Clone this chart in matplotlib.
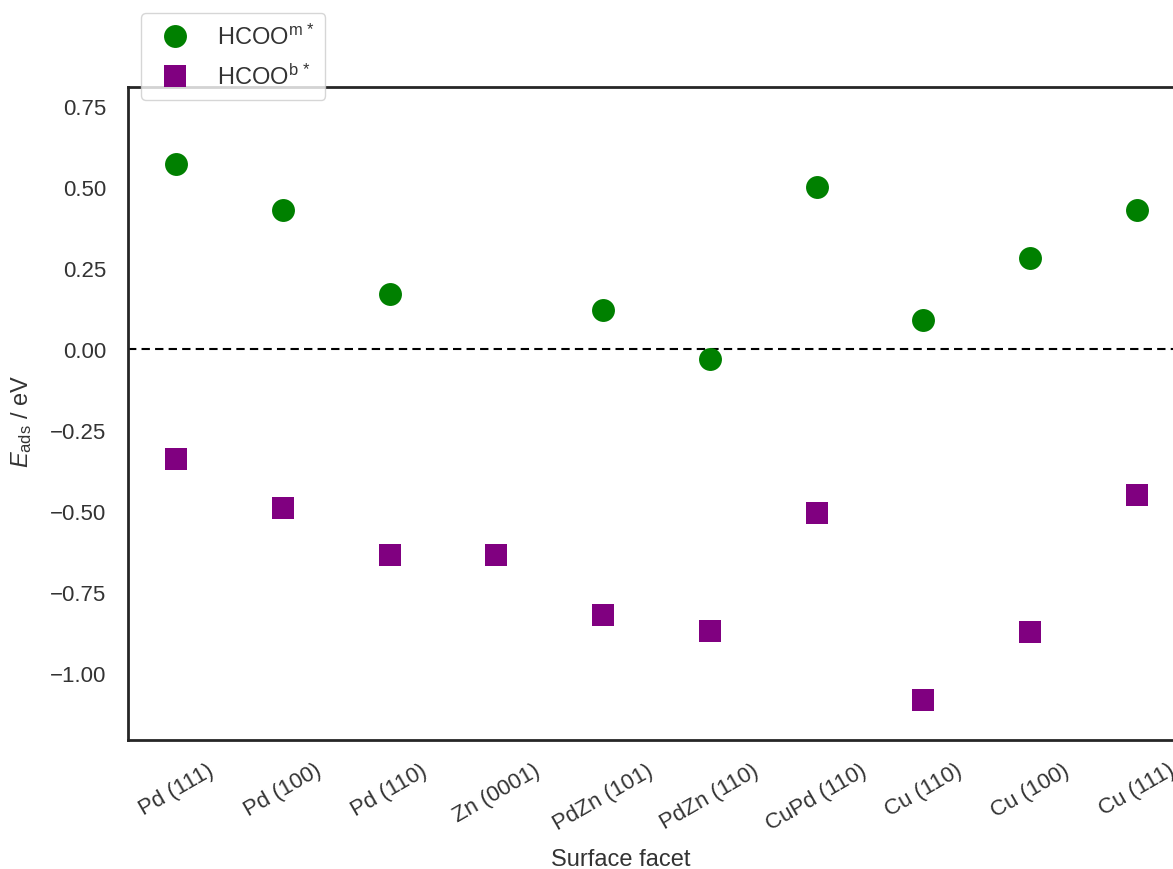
import matplotlib
matplotlib.use("Agg")
import matplotlib.pyplot as plt
import numpy as np

facets = ["Pd (111)", "Pd (100)", "Pd (110)", "Zn (0001)", "PdZn (101)",
          "PdZn (110)", "CuPd (110)", "Cu (110)", "Cu (100)", "Cu (111)"]
hcoo_m = [0.57, 0.43, 0.17, np.nan, 0.12, -0.03, 0.50, 0.09, 0.28, 0.43]
hcoo_b = [-0.34, -0.49, -0.635, -0.635, -0.82, -0.87, -0.505, -1.085, -0.875, -0.45]
yticks = [-1.00, -0.75, -0.50, -0.25, 0.00, 0.25, 0.50, 0.75]

plt.rcParams['font.family'] = ['Liberation Sans', 'DejaVu Sans']
plt.rcParams['mathtext.fontset'] = 'custom'
plt.rcParams['mathtext.rm'] = 'Liberation Sans'
plt.rcParams['mathtext.it'] = 'Liberation Sans:italic'
plt.rcParams['font.size'] = 16

fig = plt.figure(figsize=(11.73, 8.70), dpi=100)
ax = fig.add_axes([128/1173, 1-741/870, (1185-128)/1173, (741-88)/870])

x = np.arange(len(facets))
ax.axhline(0, color='black', linestyle='--', linewidth=1.5, dashes=(4, 2.5), zorder=1)
ax.plot(x, hcoo_m, linestyle='none', marker='o', markersize=16.5, color='green',
        markeredgewidth=0, label=r'HCOO$^{\mathrm{m}\,*}$', zorder=3)
ax.plot(x, hcoo_b, linestyle='none', marker='s', markersize=16.5, color='purple',
        markeredgewidth=0, label=r'HCOO$^{\mathrm{b}\,*}$', zorder=3)

ax.set_xlim(-0.45, 9.45)
ax.set_ylim(-1.207, 0.809)
ax.set_yticks(yticks)
ax.set_yticklabels([f"{v:.2f}".replace('-', '\u2212') for v in yticks], color='#333333')
ax.set_xticks(x)
ax.set_xticklabels(facets, rotation=30, ha='center', color='#333333')
ax.tick_params(axis='x', length=0, pad=14)
ax.tick_params(axis='y', length=0, pad=15.5)

for s in ax.spines.values():
    s.set_color('#262626')
    s.set_linewidth(2)

ax.set_xlabel('Surface facet', color='#333333', fontsize=17)
ax.xaxis.set_label_coords((621-128)/(1185-128), -0.165)
ax.set_ylabel(r'$E_{\mathrm{ads}}$ / eV', color='#333333', fontsize=17)
ax.yaxis.set_label_coords(-(128-34)/(1185-128), 0.49)

leg = fig.legend(loc='upper left', bbox_to_anchor=(141/1173, 1-14/870),
                 borderaxespad=0, frameon=True, fontsize=17, labelspacing=0.65,
                 handletextpad=0.75, borderpad=0.45)
leg.get_frame().set_edgecolor('#cccccc')
for t in leg.get_texts():
    t.set_color('#333333')

fig.savefig('out.png', dpi=100)
